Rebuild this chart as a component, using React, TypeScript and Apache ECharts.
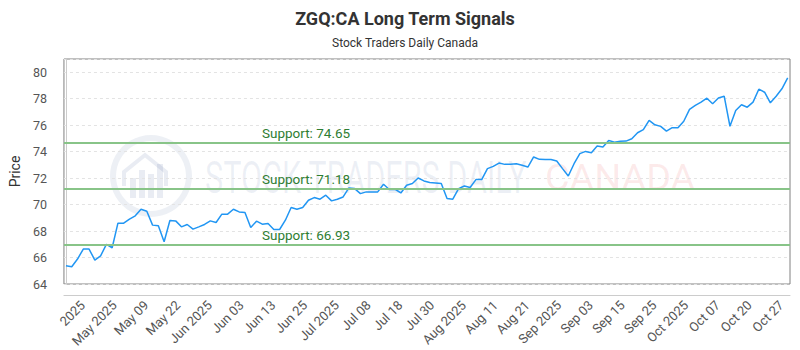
import React, { useEffect, useRef } from "react";
import * as echarts from "echarts";

const prices = [
  65.38, 65.31, 65.89, 66.64, 66.64, 65.81, 66.13, 66.99, 66.74, 68.6,
  68.6, 68.9, 69.15, 69.65, 69.5, 68.45, 68.4, 67.19, 68.8, 68.77,
  68.32, 68.5, 68.15, 68.32, 68.5, 68.77, 68.65, 69.28, 69.28, 69.65,
  69.45, 69.4, 68.27, 68.75, 68.52, 68.57, 68.12, 68.12, 68.82, 69.78,
  69.65, 69.78, 70.33, 70.53, 70.41, 70.71, 70.28, 70.41, 70.58, 71.26,
  71.21, 70.83, 70.96, 70.96, 70.96, 71.54, 71.14, 71.16, 70.88, 71.46,
  71.59, 72.01, 71.79, 71.67, 71.63, 71.59, 70.46, 70.41, 71.21, 71.41,
  71.29, 71.89, 71.89, 72.72, 72.89, 73.14, 73.04, 73.04, 73.09, 72.97,
  72.84, 73.6, 73.42, 73.4, 73.4, 73.3, 72.72, 72.16, 73.09, 73.85,
  74.02, 73.92, 74.42, 74.35, 74.85, 74.72, 74.78, 74.8, 74.98, 75.43,
  75.66, 76.36, 76.03, 75.91, 75.55, 75.81, 75.81, 76.3, 77.19, 77.49,
  77.74, 78.04, 77.62, 78.05, 78.19, 75.92, 77.11, 77.54, 77.36, 77.74,
  78.72, 78.49, 77.69, 78.18, 78.75, 79.58,
];

const tickLabels = [
  "2025", "May 2025", "May 09", "May 22", "Jun 2025", "Jun 03", "Jun 13",
  "Jun 25", "Jul 2025", "Jul 08", "Jul 18", "Jul 30", "Aug 2025", "Aug 11",
  "Aug 21", "Sep 2025", "Sep 03", "Sep 15", "Sep 25", "Oct 2025", "Oct 07",
  "Oct 20", "Oct 27",
];
const tickStart = 2.9;
const tickStep = 5.5;

const supportLevels = [74.65, 71.18, 66.93];

const yMin = 64;
const yMax = 81;
const yStep = 2;

const FONT = "Roboto";

export default function App() {
  const ref = useRef<HTMLDivElement>(null);
  useEffect(() => {
    const chart = echarts.init(ref.current!, null, { renderer: "svg" });
    const tickValues = tickLabels.map((_, i) => tickStart + i * tickStep);
    chart.setOption({
      animation: false,
      textStyle: { fontFamily: FONT },
      title: [
        {
          text: "ZGQ:CA Long Term Signals",
          left: 400,
          top: 4,
          textAlign: "center",
          textStyle: { fontSize: 18, fontWeight: "bold", color: "#333", fontFamily: FONT },
        },
        {
          text: "Stock Traders Daily Canada",
          left: 400,
          top: 32,
          textAlign: "center",
          textStyle: { fontSize: 12, fontWeight: "normal", color: "#333", fontFamily: FONT },
        },
      ],
      graphic: [
        {
          type: "ring",
          z: -10,
          shape: { cx: 151, cy: 176, r: 41, r0: 35 },
          style: { fill: "rgba(110,130,175,0.12)" },
        },
        {
          type: "polyline",
          z: -10,
          shape: { points: [[124, 186], [124, 172], [145, 155], [166, 172], [166, 186]] },
          style: { stroke: "rgba(110,130,175,0.15)", lineWidth: 4, fill: "none" },
        },
        {
          type: "group",
          z: -10,
          children: [
            { type: "rect", shape: { x: 130, y: 178, width: 6, height: 20 }, style: { fill: "rgba(110,130,175,0.15)" } },
            { type: "rect", shape: { x: 139, y: 170, width: 6, height: 28 }, style: { fill: "rgba(110,130,175,0.15)" } },
            { type: "rect", shape: { x: 148, y: 174, width: 6, height: 24 }, style: { fill: "rgba(110,130,175,0.15)" } },
            { type: "rect", shape: { x: 157, y: 164, width: 6, height: 34 }, style: { fill: "rgba(110,130,175,0.15)" } },
          ],
        },
        {
          type: "text",
          z: -10,
          x: 205,
          y: 177,
          scaleX: 0.68,
          style: {
            text: "STOCK TRADERS DAILY",
            fontSize: 45,
            fontFamily: FONT,
            fill: "rgba(110,130,175,0.12)",
            verticalAlign: "middle",
            align: "left",
          },
        },
        {
          type: "text",
          z: -10,
          x: 545,
          y: 178,
          scaleX: 1.05,
          style: {
            text: "CANADA",
            fontSize: 36,
            fontFamily: FONT,
            fill: "rgba(235,90,90,0.13)",
            verticalAlign: "middle",
            align: "left",
          },
        },
      ],
      grid: {
        left: 60,
        right: 10,
        top: 59,
        height: 226,
        show: true,
        borderColor: "#808080",
        borderWidth: 1,
        backgroundColor: "transparent",
      },
      xAxis: {
        type: "value",
        min: -0.35,
        max: prices.length - 1 + 0.4,
        offset: 11,
        axisLine: { show: true, lineStyle: { color: "#ccc" } },
        axisTick: { show: false },
        splitLine: { show: false },
        axisLabel: {
          customValues: tickValues,
          rotate: 45,
          margin: 8,
          color: "#555",
          fontSize: 13,
          fontFamily: FONT,
          formatter: (v: number) => {
            const k = Math.round((v - tickStart) / tickStep);
            return tickLabels[k] ?? "";
          },
        },
      },
      yAxis: {
        type: "value",
        min: yMin,
        max: yMax,
        interval: yStep,
        offset: 10,
        name: "Price",
        nameLocation: "middle",
        nameGap: 31,
        nameTextStyle: { fontSize: 14, color: "#333", fontFamily: FONT },
        axisLine: { show: true, lineStyle: { color: "#ccc" } },
        axisTick: { show: false },
        axisLabel: {
          color: "#555",
          fontSize: 12.5,
          margin: 7,
          fontFamily: FONT,
          formatter: (v: number) => ((v - yMin) % yStep === 0 ? String(v) : ""),
        },
        splitLine: { show: true, lineStyle: { color: "#e3e3e3", type: [3, 3] } },
      },
      series: [
        {
          type: "line",
          data: prices.map((v, i) => [i, v]),
          showSymbol: false,
          z: 3,
          lineStyle: { color: "#2196f3", width: 1.5 },
          markLine: {
            silent: true,
            symbol: ["none", "none"],
            lineStyle: { color: "#88c488", width: 2, type: "solid" },
            label: {
              position: "insideStartTop",
              distance: [198, 3],
              color: "#2e7d32",
              fontSize: 13.5,
              fontFamily: FONT,
              formatter: (p: any) => "Support: " + Number(p.value).toFixed(2),
            },
            data: supportLevels.map((v) => ({ yAxis: v })),
          },
        },
      ],
    });
    return () => chart.dispose();
  }, []);
  return <div ref={ref} style={{ position: "absolute", left: 0, top: 0, width: 800, height: 350 }} />;
}
